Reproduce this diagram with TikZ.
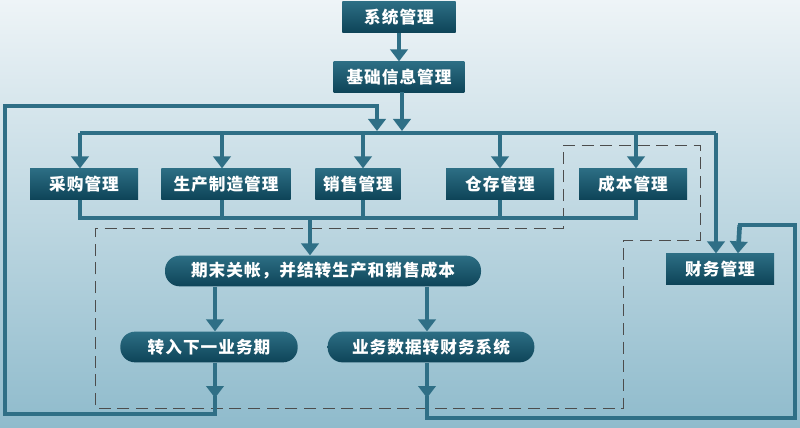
\documentclass[tikz,border=0pt]{standalone}
\usepackage{fontspec}
\newfontfamily\cjk[LetterSpace=6]{Noto Sans CJK SC}
\usetikzlibrary{arrows.meta}
\definecolor{boxtop}{HTML}{2C6E84}
\definecolor{boxbot}{HTML}{0E4458}
\definecolor{flow}{HTML}{2F6F86}
\definecolor{bgtop}{HTML}{EEF4F7}
\definecolor{bgbot}{HTML}{8FBBCC}
\tikzset{
  box/.style={minimum height=23pt, inner xsep=4pt, text=white,
    top color=boxtop, bottom color=boxbot, font=\cjk\bfseries\fontsize{12.5}{12.5}\selectfont},
  roundbox/.style={box, rounded corners=11pt},
  flowline/.style={draw=flow, line width=3.5pt},
  flowarrow/.style={flowline, -{Triangle[length=9pt, width=13pt]}},
  dashline/.style={draw=black!70, dashed, dash pattern=on 9pt off 5pt, thin}
}
\begin{document}
\begin{tikzpicture}[x=0.75pt, y=-0.75pt]
    \shade[top color=bgtop, bottom color=bgbot] (0,0) rectangle (800,428);
    \useasboundingbox (0,0) rectangle (800,428);
    % dashed groups
    \draw[dashline] (563,145) -- (700,145) -- (700,240) -- (623,240) -- (623,408)
        -- (95,408) -- (95,228) -- (563,228) -- cycle;
    % boxes
    \node[box, minimum width=85pt] (sys) at (399,17) {系统管理};
    \node[box, minimum width=98pt] (base) at (399,77) {基础信息管理};
    \node[box, minimum width=81pt] (buy) at (84,184) {采购管理};
    \node[box, minimum width=97pt] (make) at (226,184) {生产制造管理};
    \node[box, minimum width=64pt] (sell) at (358,184) {销售管理};
    \node[box, minimum width=81pt] (store) at (500,184) {仓存管理};
    \node[box, minimum width=81pt] (cost) at (633,184) {成本管理};
    \node[box, minimum width=81pt] (fin) at (720,269) {财务管理};
    \node[roundbox, minimum width=237pt] (close) at (323,271) {期末关帐，并结转生产和销售成本};
    \node[roundbox, minimum width=133pt] (next) at (209,347) {转入下一业务期};
    \node[roundbox, minimum width=155pt] (data) at (431,347) {业务数据转财务系统};
    % connectors
    \coordinate (bl) at (80,133);
    \coordinate (br) at (716,133);
    \coordinate (cl) at (80,218);
    \coordinate (cr) at (636,218);
    \draw[flowarrow] (sys) -- (base);
    \draw[flowline] (bl) -- (br);
    \draw[flowarrow] (402,92) -- (402,131);
    \draw[flowarrow] (bl) -- (buy.north -| bl);
    \draw[flowarrow] (222,133) -- (make.north -| 222,0);
    \draw[flowarrow] (363,133) -- (sell.north -| 363,0);
    \draw[flowarrow] (500,133) -- (store.north);
    \draw[flowarrow] (636,133) -- (cost.north -| cr);
    \draw[flowarrow] (br) -- (fin.north -| br);
    \draw[flowline] (buy.south -| cl) -- (cl) -- (cr) -- (cost.south -| cr);
    \draw[flowline] (make.south -| 222,0) -- (222,218);
    \draw[flowline] (sell.south -| 363,0) -- (363,218);
    \draw[flowline] (store.south) -- (500,218);
    \draw[flowarrow] (310,218) -- (close.north -| 310,0);
    \draw[flowarrow] (close.south -| 215,0) -- (next.north -| 215,0);
    \draw[flowarrow] (close.south -| 427,0) -- (data.north -| 427,0);
    \draw[flowarrow] (next.south -| 215,0) -- (215,398);
    \draw[flowline] (215,396) -- (215,414) -- (5,414) -- (5,106) -- (377,106);
    \draw[flowarrow] (377,104.3) -- (377,131);
    \draw[flowarrow] (data.south -| 427,0) -- (427,398);
    \draw[flowline] (427,396) -- (427,418) -- (795,418) -- (795,225) -- (738,225);
    \draw[flowarrow] (739.7,225) -- (fin.north -| 738,0);
\end{tikzpicture}
\end{document}
